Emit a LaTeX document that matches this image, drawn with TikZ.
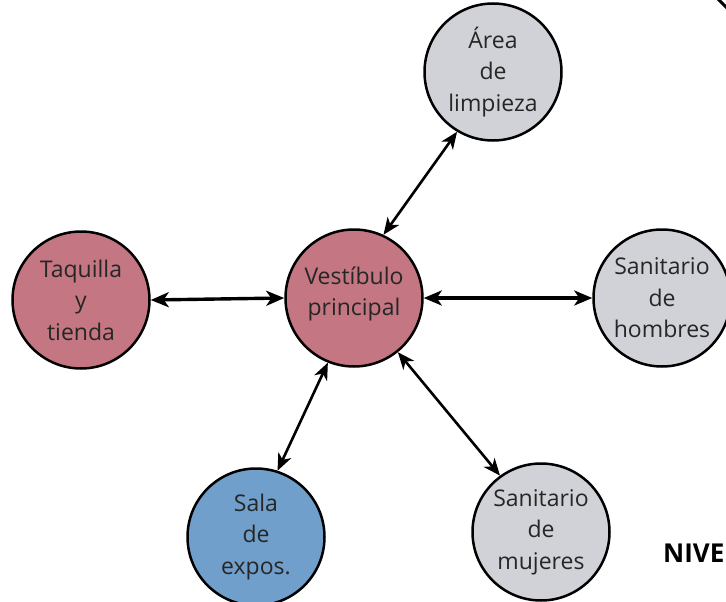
\documentclass[tikz,border=0pt]{standalone}
\usepackage{fontspec}
\setmainfont{Open Sans}
\usetikzlibrary{arrows.meta}
\definecolor{pinkc}{HTML}{C47682}
\definecolor{greyc}{HTML}{D1D2D7}
\definecolor{bluec}{HTML}{709FCC}
\definecolor{txtc}{HTML}{262626}
\begin{document}
\begin{tikzpicture}[x=1pt,y=-1pt,
  circ/.style={circle, draw=black, line width=2.5pt, minimum size=137pt, inner sep=0pt,
    align=center, text=txtc, font=\fontsize{23}{31.5}\selectfont},
  thickarr/.style={line width=3.4pt, {Stealth[length=18pt,width=15pt,inset=5pt]}-{Stealth[length=18pt,width=15pt,inset=5pt]}},
  thinarr/.style={line width=2.6pt, {Stealth[length=17pt,width=14pt,inset=5pt]}-{Stealth[length=17pt,width=14pt,inset=5pt]}}
]
\useasboundingbox (0,0) rectangle (726,602);
\fill[white] (0,0) rectangle (726,602);
\node[circ, fill=pinkc] (v) at (354,298) {Vestíbulo\\principal\\[-18pt]\mbox{}};
\node[circ, fill=pinkc] (t) at (81,300) {Taquilla\\y\\tienda};
\node[circ, fill=greyc] (a) at (493,72) {Área\\de\\limpieza};
\node[circ, fill=greyc] (h) at (662,298) {Sanitario\\de\\hombres};
\node[circ, fill=bluec] (s) at (256,537) {Sala\\de\\expos.};
\node[circ, fill=greyc] (m) at (541,532) {Sanitario\\de\\mujeres};
\draw[thickarr] (t.east) -- (v.west);
\draw[thickarr] (v.east) -- (h.west);
\draw[thinarr] (v.65) -- (a.239);
\draw[thinarr] (v.-51) -- (m.126);
\draw[thinarr] (v.248) -- (s.72);
\node[anchor=base west, inner sep=0pt, text=black, font=\fontsize{26}{30}\selectfont\bfseries] (nv) at (663,562) {NIVE};
\draw[line width=3pt] (717,-2) -- (728,9);
\end{tikzpicture}
\end{document}
